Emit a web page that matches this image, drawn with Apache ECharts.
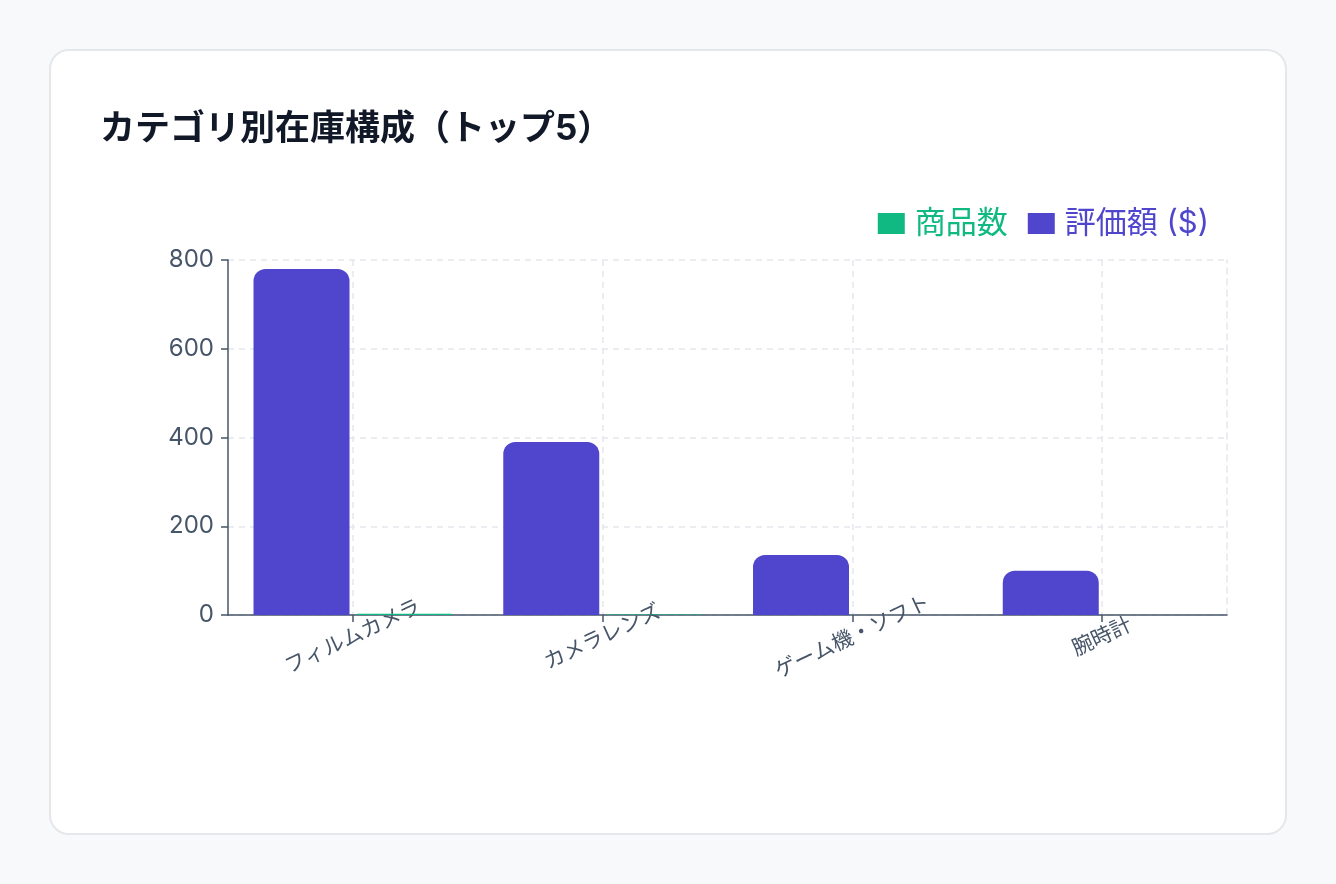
<!DOCTYPE html>
<html>
<head>
<meta charset="utf-8">
<script src="https://cdn.jsdelivr.net/npm/echarts@6/dist/echarts.min.js"></script>
<style>
  html, body { margin: 0; padding: 0; background: #f8f9fb; width: 1336px; height: 884px; overflow: hidden; }
  #card { position: absolute; left: 49px; top: 49px; width: 1238px; height: 786px; box-sizing: border-box;
          background: #ffffff; border: 2px solid #e5e7eb; border-radius: 20px; }
  #chart { position: absolute; left: 0; top: 0; width: 1336px; height: 884px; }
</style>
</head>
<body>
<div id="card"></div>
<div id="chart"></div>
<script>
const categories = ['フィルムカメラ', 'カメラレンズ', 'ゲーム機・ソフト', '腕時計'];
const valuationValues = [780, 390, 135, 100];
const itemCountValues = [3, 1, 0, 0];
const yTicks = [0, 200, 400, 600, 800];

const FONT = "Inter, 'Noto Sans CJK JP', sans-serif";
const GREEN = '#10b981';
const PURPLE = '#5046cd';
const AXIS = '#475569';
const GRID = '#e5e7eb';

const chart = echarts.init(document.getElementById('chart'), null, { renderer: 'canvas' });
chart.setOption({
  backgroundColor: 'transparent',
  textStyle: { fontFamily: FONT },
  title: {
    text: 'カテゴリ別在庫構成（トップ5）',
    left: 95, top: 107,
    textStyle: { fontFamily: FONT, fontSize: 35, fontWeight: 'bold', color: '#111827' }
  },
  legend: {
    right: 122, top: 203,
    itemWidth: 27, itemHeight: 21, itemGap: 20,
    icon: 'rect',
    textStyle: { fontFamily: FONT, fontSize: 31, padding: [0, 0, 0, 5] },
    data: [
      { name: '商品数', textStyle: { color: GREEN } },
      { name: '評価額 ($)', textStyle: { color: PURPLE } }
    ]
  },
  grid: { left: 228, right: 109, top: 260, bottom: 269, containLabel: false },
  xAxis: {
    type: 'category',
    data: categories,
    axisLine: { lineStyle: { color: AXIS, width: 1.5 } },
    axisTick: { show: true, alignWithLabel: true, length: 7, lineStyle: { color: AXIS, width: 1.5 } },
    axisLabel: {
      rotate: 25, align: 'center', verticalAlign: 'middle', margin: 22,
      fontFamily: FONT, fontSize: 21, color: AXIS, interval: 0
    },
    splitLine: { show: true, alignWithLabel: true, lineStyle: { color: GRID, type: [6, 5], width: 1.5 } }
  },
  yAxis: [{
    type: 'value',
    min: 0, max: 800, interval: 200,
    axisLine: { show: true, lineStyle: { color: AXIS, width: 1.5 } },
    axisTick: { show: true, length: 7, lineStyle: { color: AXIS, width: 1.5 } },
    axisLabel: {
      margin: 14, fontFamily: FONT, fontSize: 24, color: AXIS,
      customValues: yTicks
    },
    splitLine: { show: true, lineStyle: { color: GRID, type: [6, 5], width: 1.5 } }
  }, {
    type: 'value',
    position: 'right',
    min: 0, max: 800, interval: 200,
    axisLine: { show: true, lineStyle: { color: GRID, type: [6, 5], width: 1.5 } },
    axisTick: { show: false },
    axisLabel: { show: false },
    splitLine: { show: false }
  }],
  series: [
    {
      name: '評価額 ($)',
      type: 'bar',
      data: valuationValues,
      barWidth: 96,
      barGap: '7%',
      itemStyle: { color: PURPLE, borderRadius: [12, 12, 0, 0] }
    },
    {
      name: '商品数',
      type: 'bar',
      data: itemCountValues,
      barWidth: 96,
      barGap: '7%',
      itemStyle: { color: GREEN, borderRadius: [12, 12, 0, 0] }
    }
  ]
});
</script>
</body>
</html>
